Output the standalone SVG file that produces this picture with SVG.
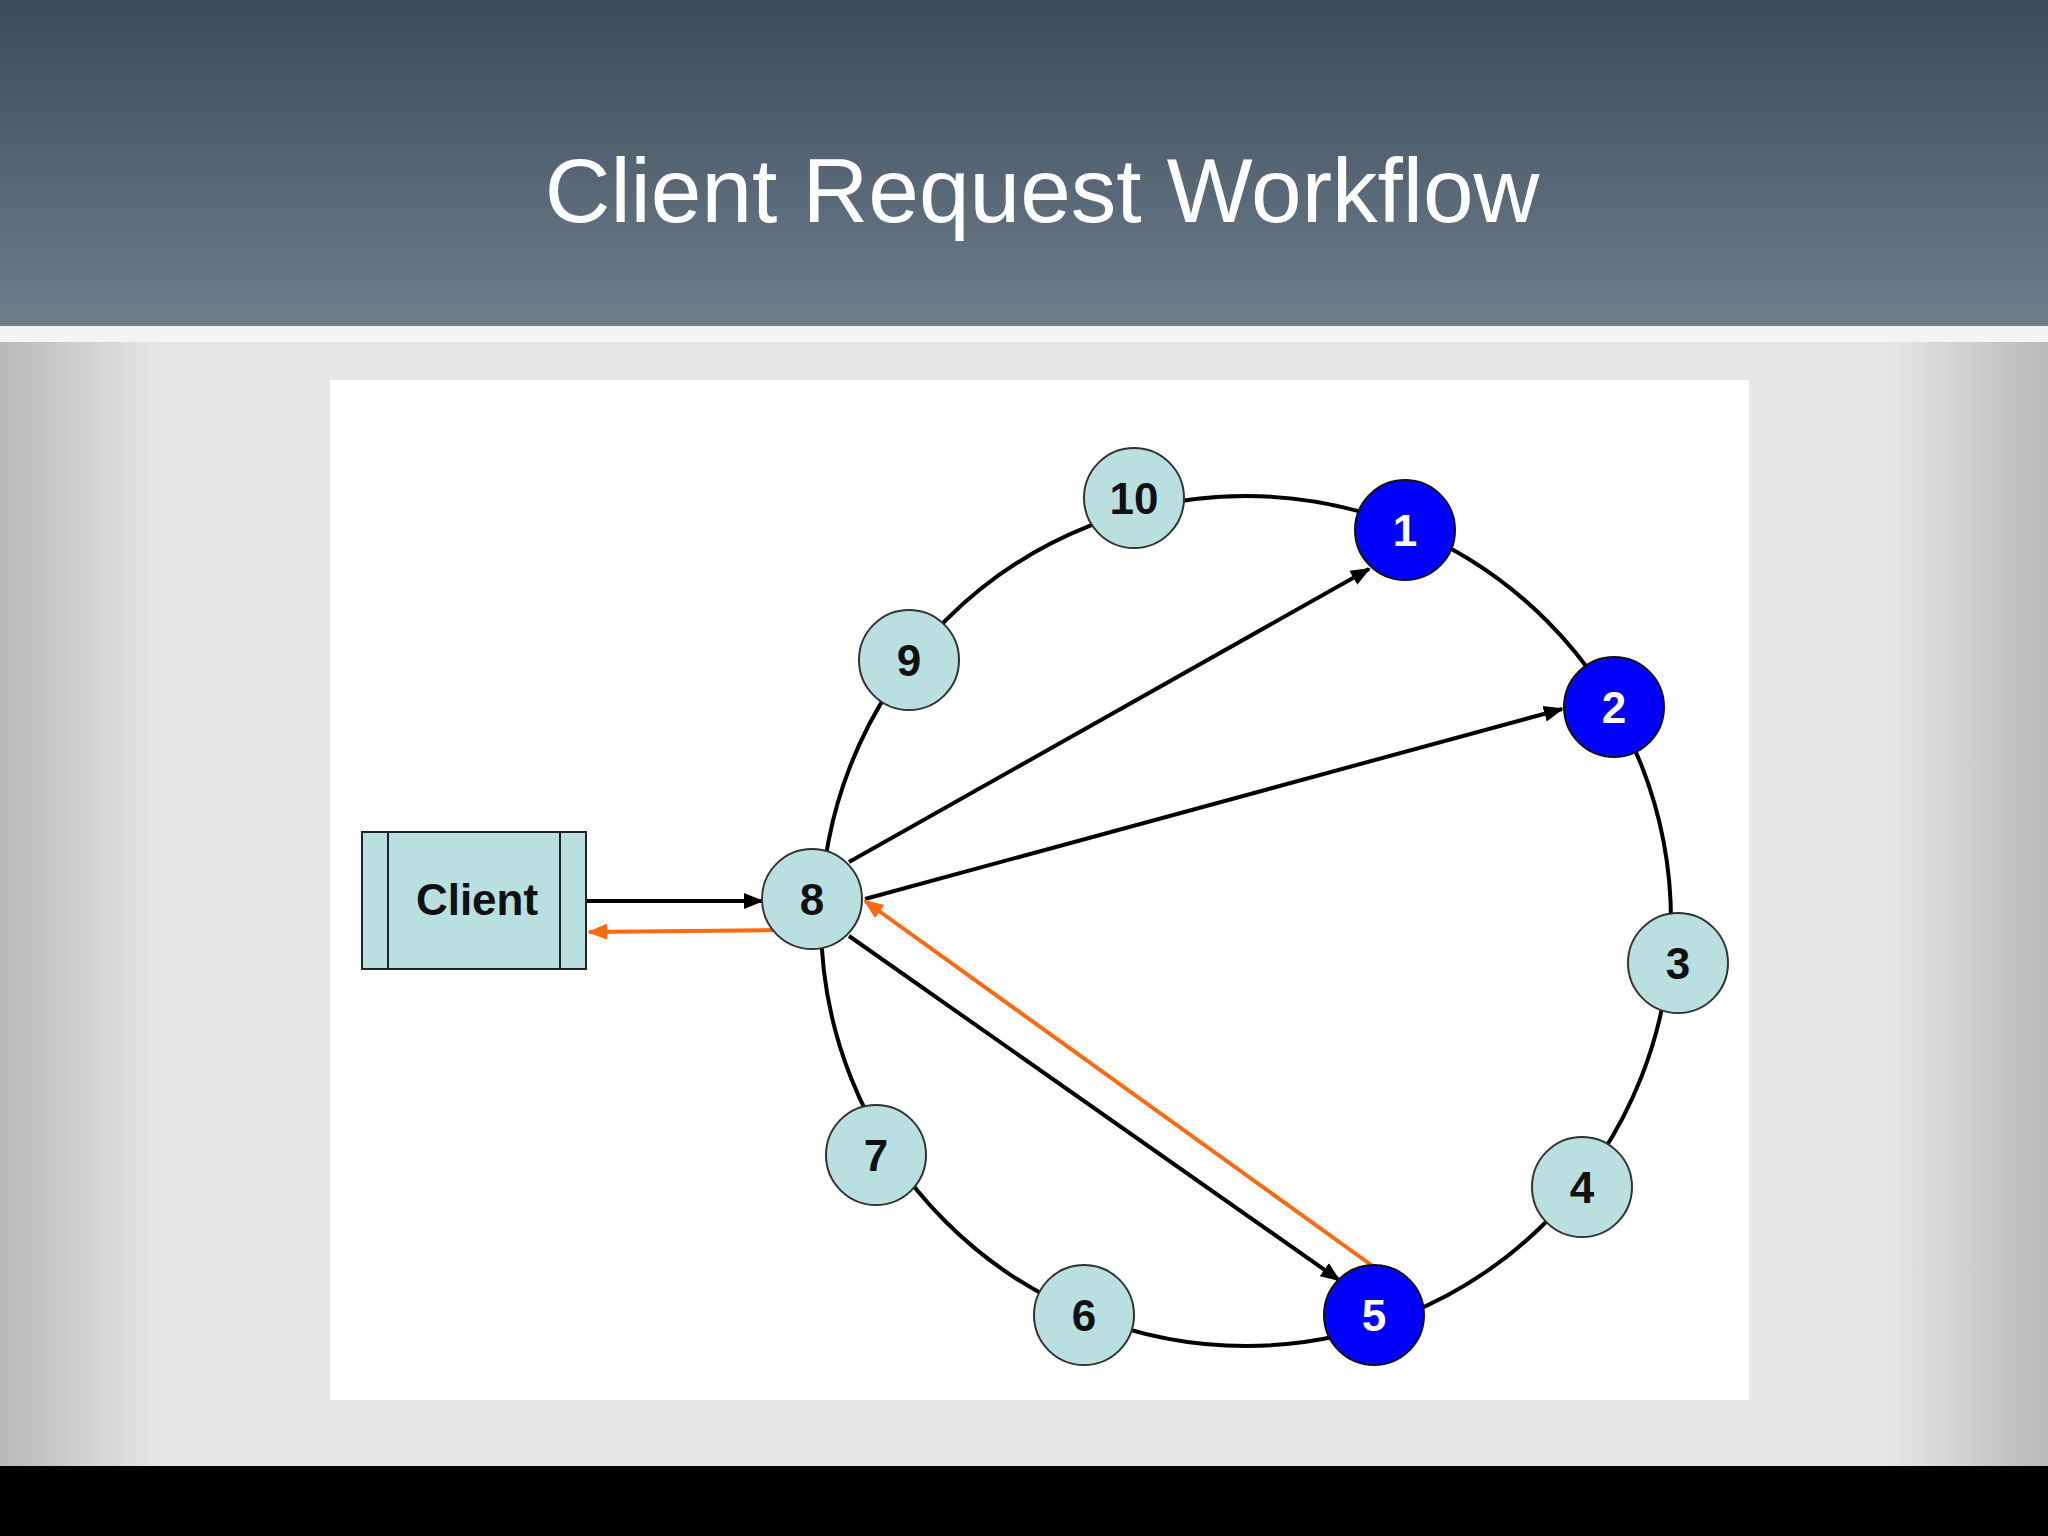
<svg xmlns="http://www.w3.org/2000/svg" width="2048" height="1536" viewBox="0 0 2048 1536">
<defs>
<linearGradient id="hdr" x1="0" y1="0" x2="0" y2="1"><stop offset="0" stop-color="#3d4a59"/><stop offset="1" stop-color="#6e7e8b"/></linearGradient>
<linearGradient id="bg" x1="0" y1="0" x2="1" y2="0"><stop offset="0" stop-color="#b8b9bb"/><stop offset="0.08" stop-color="#e6e7e9"/><stop offset="0.92" stop-color="#e6e7e9"/><stop offset="1" stop-color="#b8b9bb"/></linearGradient>
<marker id="ab" viewBox="0 0 10 10" refX="9" refY="5" markerWidth="5" markerHeight="5" orient="auto"><path d="M0,1 L10,5 L0,9 z" fill="#000"/></marker>
<marker id="ao" viewBox="0 0 10 10" refX="9" refY="5" markerWidth="5" markerHeight="5" orient="auto"><path d="M0,1 L10,5 L0,9 z" fill="#ff6a10"/></marker>
</defs>
<style>
.n{fill:#b9dfe0;stroke:#333;stroke-width:2}
.b{fill:#0000ff;stroke:#111;stroke-width:2}
.t{font-family:"Liberation Sans",Arial,sans-serif;font-weight:bold;font-size:44px;text-anchor:middle;dominant-baseline:central;fill:#111}
.w{fill:#fff}
.k{stroke:#000;stroke-width:4;fill:none}
.o{stroke:#ff6a10;stroke-width:4;fill:none}
</style>
<rect width="2048" height="1536" fill="url(#bg)"/>
<rect width="2048" height="326" fill="url(#hdr)"/>
<rect y="326" width="2048" height="16" fill="#f4f4f4"/>
<rect y="1466" width="2048" height="70" fill="#000"/>
<text x="1042" y="190" font-family="Liberation Sans,Arial,sans-serif" font-size="91" fill="#fff" text-anchor="middle" dominant-baseline="central">Client Request Workflow</text>
<rect x="330" y="380" width="1419" height="1020" fill="#fff"/>
<circle cx="1246" cy="921" r="425" fill="none" stroke="#000" stroke-width="4"/>
<g id="connectors">
<line class="k" x1="586" y1="901" x2="762" y2="901" marker-end="url(#ab)"/>
<line class="o" x1="777" y1="930" x2="589" y2="932" marker-end="url(#ao)"/>
<line class="k" x1="849" y1="862" x2="1369" y2="569" marker-end="url(#ab)"/>
<line class="k" x1="865" y1="899" x2="1562" y2="709" marker-end="url(#ab)"/>
<line class="k" x1="849" y1="936" x2="1339" y2="1280" marker-end="url(#ab)"/>
<line class="o" x1="1374" y1="1267" x2="865" y2="901" marker-end="url(#ao)"/>
</g>
<g id="client"><rect x="362" y="832" width="224" height="137" fill="#b9dfe0" stroke="#222" stroke-width="2"/><line x1="388" y1="832" x2="388" y2="969" stroke="#222" stroke-width="2"/><line x1="560" y1="832" x2="560" y2="969" stroke="#222" stroke-width="2"/><text class="t" x="477" y="899">Client</text></g>
<g id="n10"><circle class="n" cx="1134" cy="498" r="50"/><text class="t" x="1134" y="498">10</text></g>
<g id="n1"><circle class="b" cx="1405" cy="530" r="50"/><text class="t w" x="1405" y="530">1</text></g>
<g id="n2"><circle class="b" cx="1614" cy="707" r="50"/><text class="t w" x="1614" y="707">2</text></g>
<g id="n3"><circle class="n" cx="1678" cy="963" r="50"/><text class="t" x="1678" y="963">3</text></g>
<g id="n4"><circle class="n" cx="1582" cy="1187" r="50"/><text class="t" x="1582" y="1187">4</text></g>
<g id="n5"><circle class="b" cx="1374" cy="1315" r="50"/><text class="t w" x="1374" y="1315">5</text></g>
<g id="n6"><circle class="n" cx="1084" cy="1315" r="50"/><text class="t" x="1084" y="1315">6</text></g>
<g id="n7"><circle class="n" cx="876" cy="1155" r="50"/><text class="t" x="876" y="1155">7</text></g>
<g id="n8"><circle class="n" cx="812" cy="899" r="50"/><text class="t" x="812" y="899">8</text></g>
<g id="n9"><circle class="n" cx="909" cy="660" r="50"/><text class="t" x="909" y="660">9</text></g>
</svg>
